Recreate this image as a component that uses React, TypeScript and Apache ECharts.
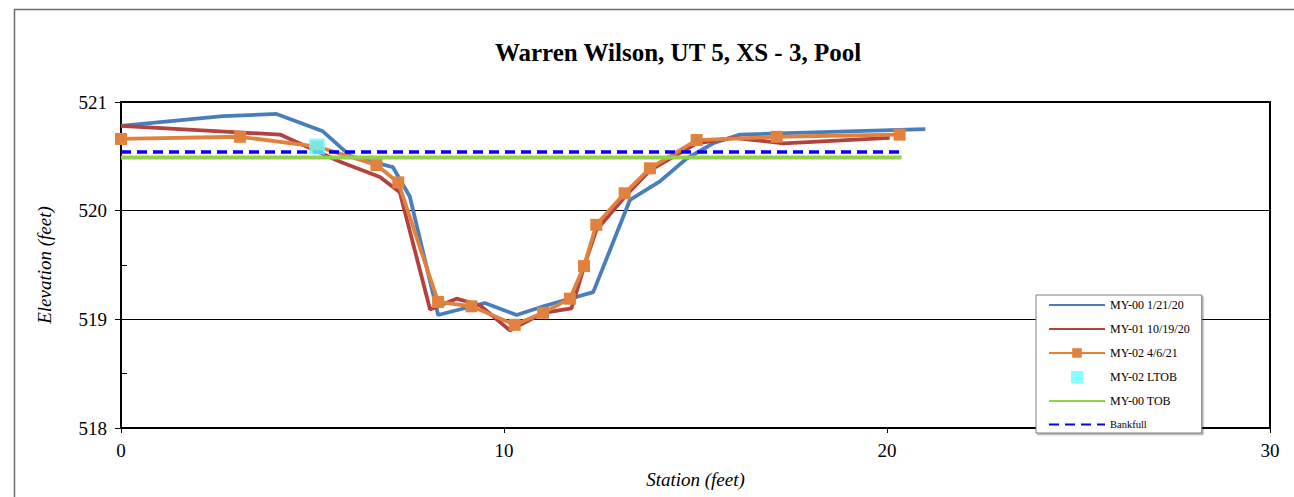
import React, { useEffect, useRef } from "react";
import * as echarts from "echarts";

const titleText = "Warren Wilson, UT 5, XS - 3, Pool";
const xAxisName = "Station (feet)";
const yAxisName = "Elevation (feet)";

const my00Station = [0, 2.66, 4.06, 5.27, 6.0, 7.1, 7.54, 8.28, 9.5, 10.33, 11.03, 12.33, 13.29, 14.07, 14.77, 15.46, 16.16, 21.0];
const my00Elev = [520.78, 520.87, 520.89, 520.73, 520.5, 520.4, 520.13, 519.04, 519.15, 519.04, 519.12, 519.25, 520.1, 520.27, 520.48, 520.62, 520.7, 520.75];

const my01Station = [0, 4.15, 5.72, 6.76, 7.28, 8.07, 8.76, 9.37, 10.15, 11.03, 11.76, 12.15, 12.41, 13.16, 13.81, 15.03, 16.0, 17.3, 20.07];
const my01Elev = [520.78, 520.7, 520.45, 520.31, 520.17, 519.09, 519.19, 519.13, 518.9, 519.06, 519.1, 519.55, 519.82, 520.13, 520.37, 520.62, 520.67, 520.62, 520.67];

const my02Station = [0, 3.11, 5.12, 6.67, 7.24, 8.28, 9.15, 10.28, 11.02, 11.72, 12.09, 12.41, 13.15, 13.81, 15.03, 17.12, 20.33];
const my02Elev = [520.66, 520.68, 520.59, 520.42, 520.26, 519.16, 519.12, 518.95, 519.06, 519.19, 519.49, 519.87, 520.16, 520.39, 520.65, 520.68, 520.7];

const ltobStation = [5.12];
const ltobElev = [520.59];

const tobStation = [0, 20.38];
const tobElev = [520.49, 520.49];

const bankfullStation = [0, 20.33];
const bankfullElev = [520.54, 520.54];

const seriesNames = ["MY-00 1/21/20", "MY-01 10/19/20", "MY-02 4/6/21", "MY-02 LTOB", "MY-00 TOB", "Bankfull"];

const zip = (xs: number[], ys: number[]) => xs.map((x, i) => [x, ys[i]]);

const FONT = "'Liberation Serif', 'Times New Roman', serif";

export default function App() {
  const ref = useRef<HTMLDivElement>(null);
  useEffect(() => {
    if (!ref.current) return;
    const chart = echarts.init(ref.current, null, { renderer: "svg" });
    const hiddenSymbol = { opacity: 0, color: "transparent", borderWidth: 0 };
    chart.setOption({
      animation: false,
      backgroundColor: "#fff",
      textStyle: { fontFamily: FONT },
      title: {
        text: titleText,
        left: 673,
        top: 35,
        textAlign: "center",
        textStyle: { fontFamily: FONT, fontSize: 25, fontWeight: "bold", color: "#000" },
      },
      graphic: [
        {
          type: "rect",
          shape: { x: 14.5, y: 9.5, width: 1400, height: 700 },
          style: { fill: "none", stroke: "#6e6e6e", lineWidth: 1.5 },
          silent: true,
          z: 0,
        },
      ],
      legend: {
        orient: "vertical",
        left: 1036,
        top: 295,
        padding: [4, 12, 3, 12],
        itemWidth: 56,
        itemHeight: 12,
        itemGap: 12,
        backgroundColor: "#fff",
        borderColor: "#7f7f7f",
        borderWidth: 1,
        shadowColor: "rgba(0,0,0,0.35)",
        shadowOffsetX: 1.5,
        shadowOffsetY: 1.5,
        shadowBlur: 1,
        textStyle: { fontFamily: FONT, fontSize: 12, color: "#000" },
        data: [
          { name: seriesNames[0], itemStyle: hiddenSymbol },
          { name: seriesNames[1], itemStyle: hiddenSymbol },
          { name: seriesNames[2] },
          { name: seriesNames[3], icon: "path://M0,0h10v10h-10z" },
          { name: seriesNames[4], itemStyle: hiddenSymbol },
          { name: seriesNames[5], itemStyle: hiddenSymbol, textStyle: { fontSize: 10.5 } },
        ],
        z: 10,
      },
      grid: {
        left: 121,
        right: 24,
        top: 102,
        bottom: 69,
        show: true,
        borderColor: "#000",
        borderWidth: 2,
        backgroundColor: "transparent",
      },
      xAxis: {
        type: "value",
        min: 0,
        max: 30,
        interval: 10,
        name: xAxisName,
        nameLocation: "middle",
        nameGap: 42,
        nameTextStyle: { fontFamily: FONT, fontSize: 19, fontStyle: "italic", color: "#000" },
        axisLine: { show: true, lineStyle: { color: "#000", width: 2 } },
        axisTick: { show: true, inside: false, length: 5, lineStyle: { color: "#000" } },
        axisLabel: { fontFamily: FONT, fontSize: 19, color: "#000", margin: 13 },
        splitLine: { show: false },
      },
      yAxis: [
        {
          type: "value",
          min: 518,
          max: 521,
          interval: 1,
          name: yAxisName,
          nameLocation: "middle",
          nameGap: 67,
          nameTextStyle: { fontFamily: FONT, fontSize: 19, fontStyle: "italic", color: "#000" },
          axisLine: { show: true, lineStyle: { color: "#000", width: 2 } },
          axisTick: { show: true, inside: false, length: 6, lineStyle: { color: "#000" } },
          axisLabel: { fontFamily: FONT, fontSize: 19, color: "#000", margin: 14 },
          splitLine: { show: true, lineStyle: { color: "#000", width: 1 } },
        },
        {
          type: "value",
          position: "left",
          min: 518,
          max: 521,
          interval: 0.5,
          axisLine: { show: false },
          axisTick: { show: true, inside: true, length: 6, lineStyle: { color: "#000" } },
          axisLabel: { show: false },
          splitLine: { show: false },
        },
      ],
      series: [
        {
          name: seriesNames[0],
          type: "line",
          data: zip(my00Station, my00Elev),
          symbol: "none",
          lineStyle: { color: "#4a7ebb", width: 3.8 },
          itemStyle: { color: "#4a7ebb" },
          z: 2,
        },
        {
          name: seriesNames[1],
          type: "line",
          data: zip(my01Station, my01Elev),
          symbol: "none",
          lineStyle: { color: "#b3413f", width: 3.8 },
          itemStyle: { color: "#b3413f" },
          z: 3,
        },
        {
          name: seriesNames[2],
          type: "line",
          data: zip(my02Station, my02Elev),
          symbol: "rect",
          symbolSize: 12,
          lineStyle: { color: "#e0823d", width: 3.8 },
          itemStyle: { color: "#e0823d" },
          z: 4,
        },
        {
          name: seriesNames[3],
          type: "scatter",
          data: zip(ltobStation, ltobElev),
          symbol: "rect",
          symbolSize: 16,
          itemStyle: { color: "#66ffff" },
          z: 7,
        },
        {
          name: seriesNames[4],
          type: "line",
          data: zip(tobStation, tobElev),
          symbol: "none",
          lineStyle: { color: "#92d050", width: 4 },
          itemStyle: { color: "#92d050" },
          z: 5,
        },
        {
          name: seriesNames[5],
          type: "line",
          data: zip(bankfullStation, bankfullElev),
          symbol: "none",
          lineStyle: { color: "#0000ff", width: 3.5, type: [10, 6] },
          itemStyle: { color: "#0000ff" },
          z: 6,
        },
      ],
    });
    return () => chart.dispose();
  }, []);
  return (
    <div
      ref={ref}
      style={{ position: "fixed", left: 0, top: 0, width: 1294, height: 497 }}
    />
  );
}
